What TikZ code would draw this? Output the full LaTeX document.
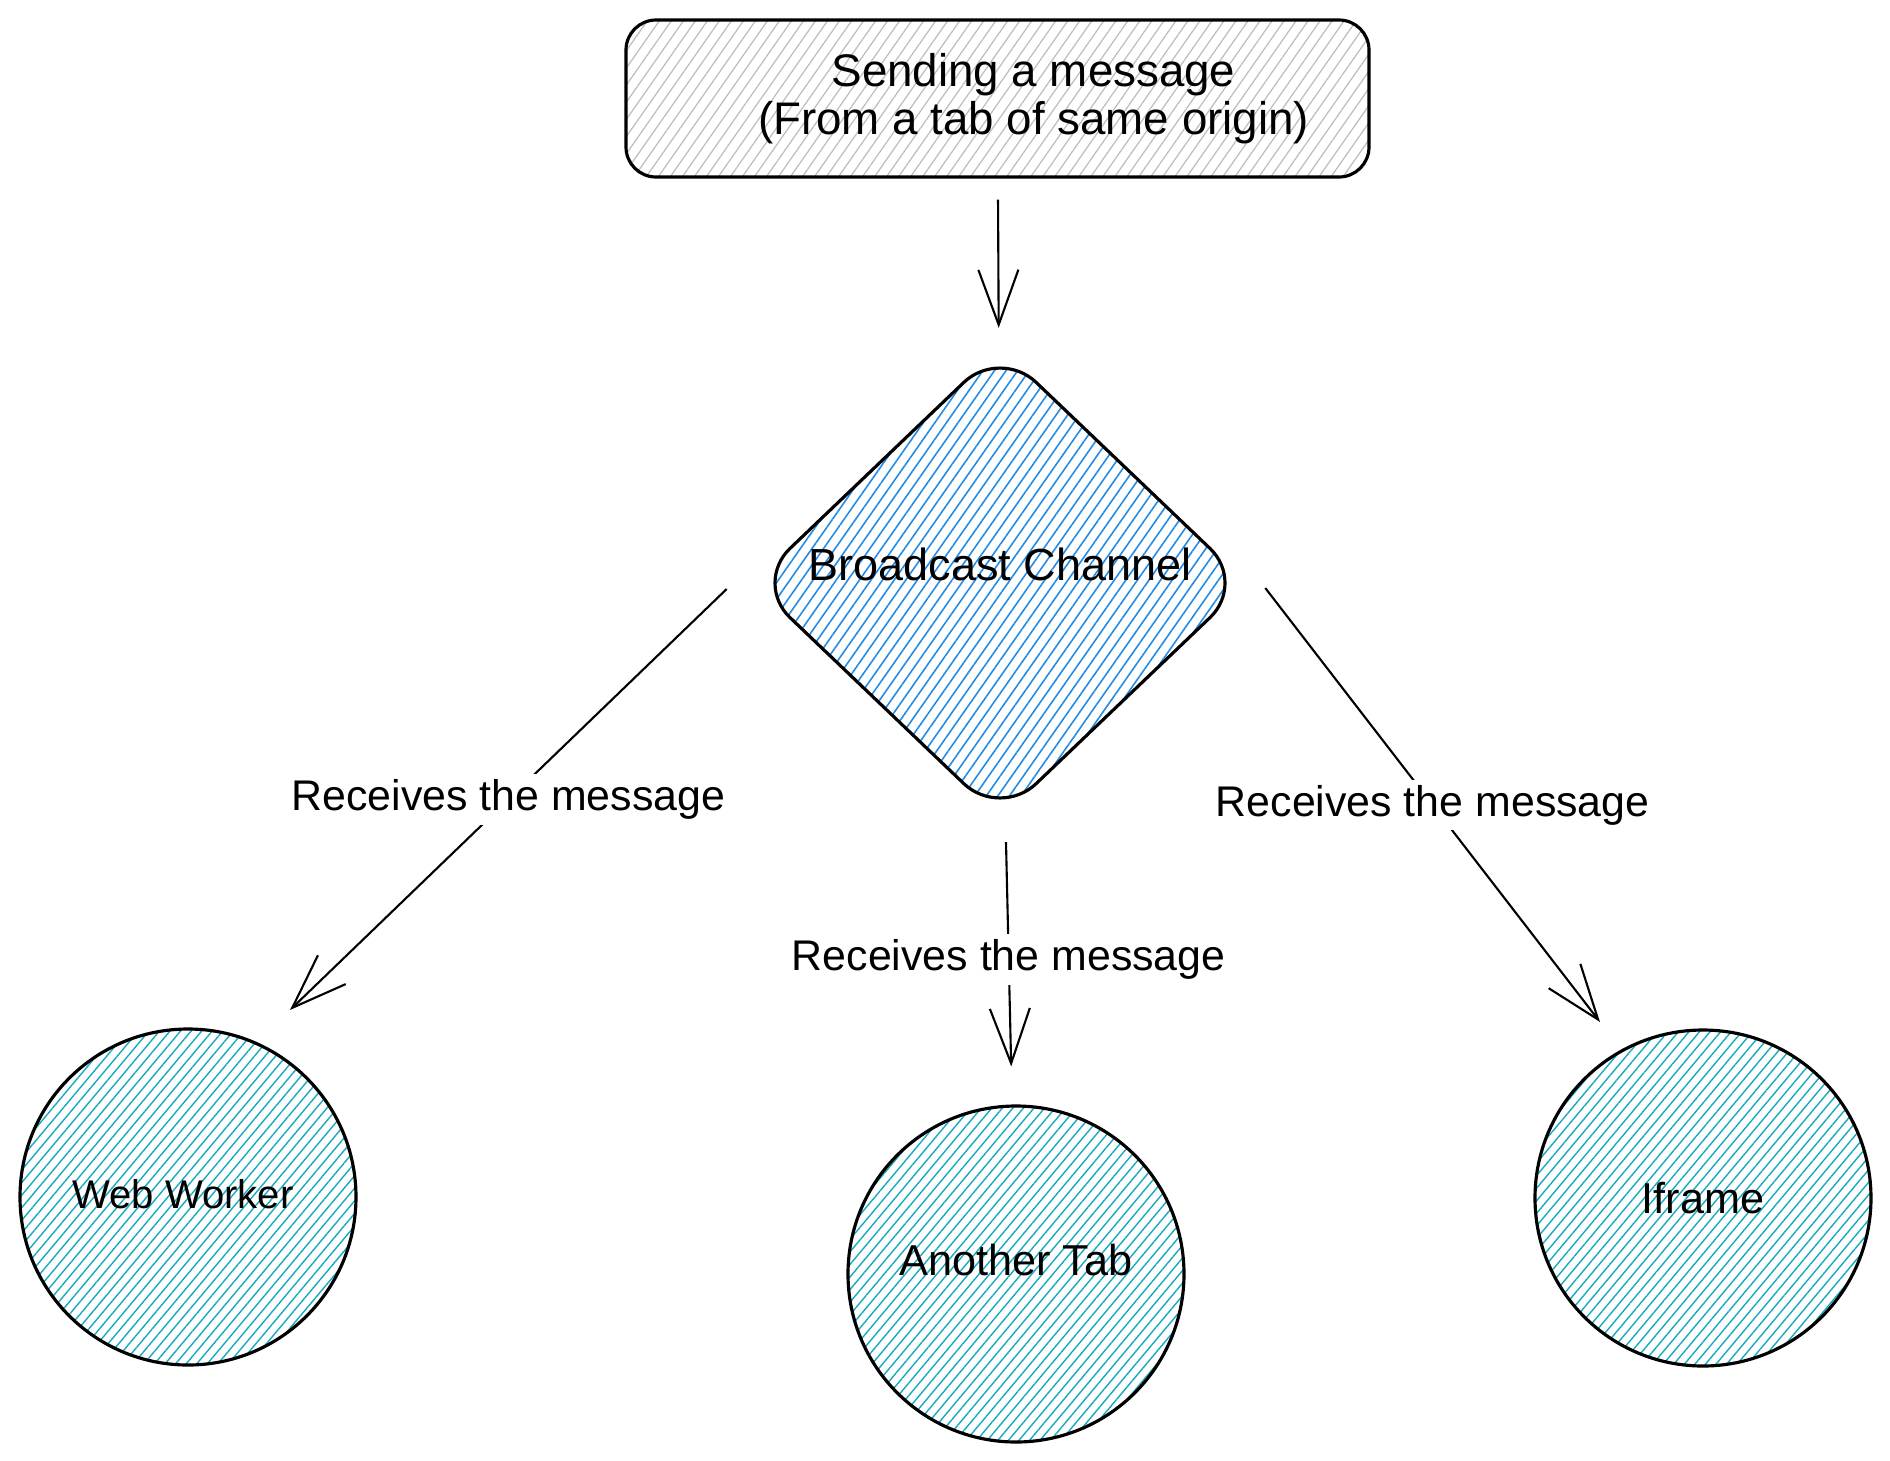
\documentclass[tikz,border=0pt]{standalone}
\usepackage{fontspec}
\setmainfont{Liberation Sans}
\usetikzlibrary{arrows.meta,patterns.meta,shapes.geometric}
\definecolor{hatchgray}{HTML}{BDBDBD}
\definecolor{hatchblue}{HTML}{228BE6}
\definecolor{hatchcyan}{HTML}{15AABF}

\begin{document}
\begin{tikzpicture}[
  sendbox/.style = {shape=rectangle, rounded corners=0.3cm, draw, line width=0.9pt,
    minimum width=7.43cm, minimum height=1.57cm,
    pattern={Lines[angle=55,distance=2.8pt,line width=0.35pt]}, pattern color=hatchgray},
  channel/.style = {shape=diamond, rounded corners=0.5cm, draw, line width=0.9pt,
    inner sep=0pt, minimum width=4.93cm, minimum height=4.71cm,
    pattern={Lines[angle=55,distance=2.7pt,line width=0.45pt]}, pattern color=hatchblue},
  peer/.style = {shape=circle, draw, line width=0.9pt, minimum size=3.36cm,
    pattern={Lines[angle=50,distance=2.3pt,line width=0.4pt]}, pattern color=hatchcyan},
  caption/.style = {align=center, inner sep=0pt, font=\fontsize{12.3pt}{13.6pt}\selectfont},
  msg/.style = {fill=white, inner sep=1.5pt, font=\fontsize{12.2pt}{15pt}\selectfont},
  arr/.style = {-{Straight Barb[length=5.5mm,width=4mm]}, line width=0.6pt}]
  \useasboundingbox (0,0) rectangle (18.9,-14.6);

  \node[sendbox] (send) at (9.975,-0.985) {};
  \node[caption, font=\fontsize{13pt}{13.6pt}\selectfont] (sendtxt) at ([xshift=0.36cm]send.center)
    {Sending a message\\(From a tab of same origin)};
  \node[channel] (bc) at (10.00,-5.83) {};
  \node[caption, font=\fontsize{12.8pt}{14pt}\selectfont] (bctxt) at ([yshift=0.19cm]bc.center) {Broadcast Channel};
  \node[peer] (ww) at (1.88,-11.97) {};
  \node[caption, font=\fontsize{11.4pt}{14pt}\selectfont] (wwtxt) at ([xshift=-0.05cm,yshift=0.03cm]ww.center) {Web Worker};
  \node[peer] (tab) at (10.16,-12.74) {};
  \node[caption] (tabtxt) at ([yshift=0.14cm]tab.center) {Another Tab};
  \node[peer] (ifr) at (17.03,-11.98) {};
  \node[caption] (ifrtxt) at (ifr.center) {Iframe};

  \draw[arr, shorten <=0.22cm, shorten >=0.2cm] (send) -- (bc);
  \draw[arr] ([shift={(-0.26,-0.06)}]bc.west) -- node[msg] {Receives the message}
    ([shift={(1.02,1.87)}]ww.center);
  \draw[arr, shorten <=0.28cm, shorten >=0.38cm] (bc) -- node[msg] {Receives the message} (tab);
  \draw[arr] ([shift={(0.18,-0.05)}]bc.east) -- node[msg] {Receives the message}
    ([shift={(-1.03,1.76)}]ifr.center);
\end{tikzpicture}
\end{document}
